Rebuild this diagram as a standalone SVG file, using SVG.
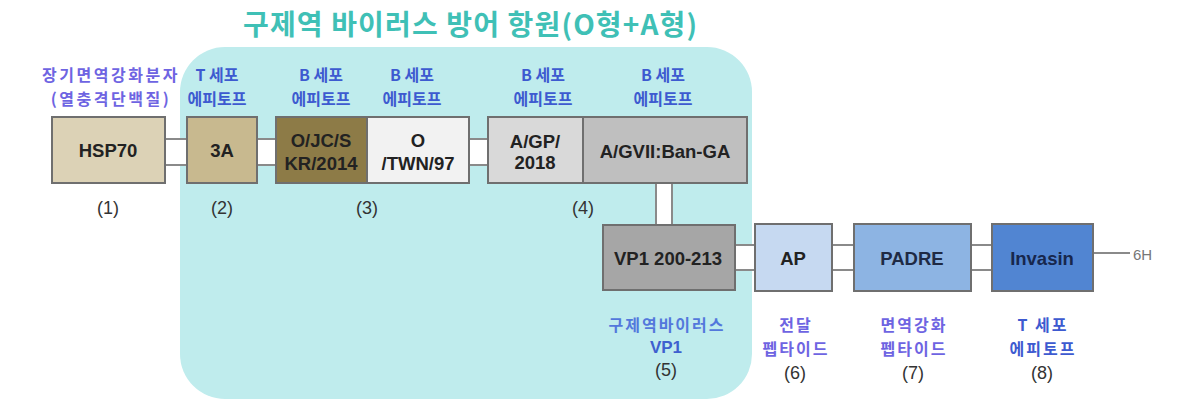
<svg xmlns="http://www.w3.org/2000/svg" width="1180" height="411" viewBox="0 0 1180 411">
<style>
.box{stroke:#6f6f6f;stroke-width:2}
.bt{font-family:"Liberation Sans",Arial,sans-serif;font-weight:bold;font-size:18.5px;fill:#222;text-anchor:middle;dominant-baseline:central}
.lbl{font-family:"Noto Sans CJK KR","Noto Sans",sans-serif;font-size:16px;text-anchor:middle;font-weight:bold}
.lb2{font-family:"Noto Sans CJK KR","Noto Sans",sans-serif;font-size:16px;text-anchor:middle;font-weight:bold;letter-spacing:2px}
.blue{fill:#3d5ad0}
.vio{fill:#6e64e2}
.num{font-family:"Liberation Sans",Arial,sans-serif;font-size:18px;fill:#333;text-anchor:middle;dominant-baseline:central}
.band{fill:#ffffff}
.edge{stroke:#8a8a8a;stroke-width:2;fill:none}
</style>
<rect width="1180" height="411" fill="#ffffff"/>
<g id="panel">
<rect x="180" y="47" width="572" height="352" rx="45" ry="45" fill="#bfeced"/>
<text x="470" y="23" font-family="'Noto Sans CJK KR','Noto Sans',sans-serif" font-size="28" font-weight="bold" fill="#3fc0b6" text-anchor="middle" dominant-baseline="central" textLength="454" lengthAdjust="spacing">구제역 바이러스 방어 항원(O형+A형)</text>
</g>
<g id="connectors">
<rect class="band" x="165" y="139" width="22" height="26"/><path class="edge" d="M165 139H187M165 165H187"/>
<rect class="band" x="257" y="139" width="19" height="26"/><path class="edge" d="M257 139H276M257 165H276"/>
<rect class="band" x="469" y="139" width="19" height="26"/><path class="edge" d="M469 139H488M469 165H488"/>
<rect class="band" x="656" y="183" width="16" height="42"/><path class="edge" d="M656 183V225M672 183V225"/>
<rect class="band" x="735" y="245" width="20" height="25"/><path class="edge" d="M735 245H755M735 270H755"/>
<rect class="band" x="832" y="245" width="22" height="25"/><path class="edge" d="M832 245H854M832 270H854"/>
<rect class="band" x="971" y="245" width="21" height="25"/><path class="edge" d="M971 245H992M971 270H992"/>
<path class="edge" d="M1093 253H1130" stroke-width="1.5"/>
<text x="1133" y="254" font-family="'Liberation Sans',Arial,sans-serif" font-size="15" fill="#777" dominant-baseline="central">6H</text>
</g>
<g id="n1">
<rect class="box" x="52" y="117" width="113" height="66" fill="#dcd2b6"/>
<text class="bt" x="108" y="150">HSP70</text>
<text class="lbl vio" x="111" y="81" letter-spacing="2.5">장기면역강화분자</text>
<text class="lbl vio" x="111" y="104.5" letter-spacing="2.5">(열충격단백질)</text>
<text class="num" x="108" y="208">(1)</text>
</g>
<g id="n2">
<rect class="box" x="187" y="117" width="70" height="66" fill="#c8b98f"/>
<text class="bt" x="222" y="150">3A</text>
<text class="lbl blue" x="217" y="81">T 세포</text>
<text class="lbl blue" x="217" y="104.5">에피토프</text>
<text class="num" x="222" y="208">(2)</text>
</g>
<g id="n3a">
<rect class="box" x="276" y="117" width="91" height="66" fill="#8d7b47"/>
<text class="bt" x="321" y="140">O/JC/S</text>
<text class="bt" x="321" y="163">KR/2014</text>
<text class="lbl blue" x="321" y="81">B 세포</text>
<text class="lbl blue" x="321" y="104.5">에피토프</text>
</g>
<g id="n3b">
<rect class="box" x="367" y="117" width="102" height="66" fill="#f2f2f2"/>
<text class="bt" x="418" y="140">O</text>
<text class="bt" x="418" y="163">/TWN/97</text>
<text class="lbl blue" x="412" y="81">B 세포</text>
<text class="lbl blue" x="412" y="104.5">에피토프</text>
<text class="num" x="367" y="208">(3)</text>
</g>
<g id="n4a">
<rect class="box" x="488" y="117" width="95" height="66" fill="#d9d9d9"/>
<text class="bt" x="535" y="141">A/GP/</text>
<text class="bt" x="535" y="162">2018</text>
<text class="lbl blue" x="543" y="81">B 세포</text>
<text class="lbl blue" x="543" y="104.5">에피토프</text>
<text class="num" x="583" y="208">(4)</text>
</g>
<g id="n4b">
<rect class="box" x="583" y="117" width="164" height="66" fill="#bfbfbf"/>
<text class="bt" x="665" y="151">A/GVII:Ban-GA</text>
<text class="lbl blue" x="663" y="81">B 세포</text>
<text class="lbl blue" x="663" y="104.5">에피토프</text>
</g>
<g id="n5">
<rect class="box" x="603" y="225" width="132" height="65" fill="#a6a6a6"/>
<text class="bt" x="668" y="258">VP1 200-213</text>
<text class="lbl" x="667" y="331" fill="#5378dc" letter-spacing="2">구제역바이러스</text>
<text class="bt" x="666" y="347" style="fill:#3e5fcf;font-size:17px">VP1</text>
<text class="num" x="666" y="370">(5)</text>
</g>
<g id="n6">
<rect class="box" x="755" y="224" width="77" height="67" fill="#c6d9f1"/>
<text class="bt" x="793" y="258">AP</text>
<text class="lb2 vio" x="796" y="331">전달</text>
<text class="lb2 vio" x="796" y="354.5">펩타이드</text>
<text class="num" x="795" y="373">(6)</text>
</g>
<g id="n7">
<rect class="box" x="854" y="224" width="117" height="67" fill="#8db4e3"/>
<text class="bt" x="912" y="258" style="fill:#1f2a44">PADRE</text>
<text class="lb2 vio" x="914" y="331">면역강화</text>
<text class="lb2 vio" x="914" y="354.5">펩타이드</text>
<text class="num" x="913" y="373">(7)</text>
</g>
<g id="n8">
<rect class="box" x="992" y="224" width="101" height="67" fill="#5185d2"/>
<text class="bt" x="1042" y="258" style="fill:#17274d">Invasin</text>
<text class="lb2 blue" x="1043" y="331">T 세포</text>
<text class="lb2 blue" x="1043" y="354.5">에피토프</text>
<text class="num" x="1042" y="373">(8)</text>
</g>
</svg>
